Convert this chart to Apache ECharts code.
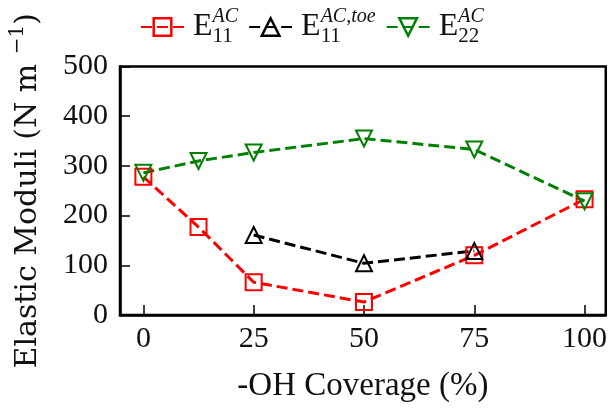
<!DOCTYPE html>
<html>
<head>
<meta charset="utf-8">
<script src="https://cdn.jsdelivr.net/npm/echarts@6/dist/echarts.min.js"></script>
<style>html,body{margin:0;padding:0;background:#fff}#c{width:610px;height:408px}</style>
</head>
<body>
<div id="c"></div>
<script>
var coverage = [0, 12.5, 25, 50, 75, 100];
var e11AC = [278, 177, 66, 26, 120, 233];
var e11ACtoe = [null, null, 161, 104, 129, null];
var e22AC = [286, 310, 327, 355, 333, 229];
var xTicks = [0, 25, 50, 75, 100];
var seriesNames = ['E11AC', 'E11ACtoe', 'E22AC'];
var legendSups = {E11AC: ['11', 'AC'], E11ACtoe: ['11', 'AC,toe'], E22AC: ['22', 'AC']};

function pairs(vals) {
  return coverage.map(function (x, i) { return [x, vals[i]]; });
}
var FONT = 'Liberation Serif';
var FONT2 = 'DejaVu Serif';
var chart = echarts.init(document.getElementById('c'), null, {renderer: 'canvas'});

function mkSeries(name, vals, color, symbol, rotate) {
  return {
    name: name, type: 'line', data: pairs(vals),
    symbol: symbol, symbolSize: 16, symbolRotate: rotate,
    lineStyle: {color: color, width: 3, type: [11, 5]},
    itemStyle: {color: 'rgba(255,255,255,0)', borderColor: color, borderWidth: 2},
    emphasis: {disabled: true}
  };
}

chart.setOption({
  animation: false,
  textStyle: {fontFamily: FONT},
  grid: {left: 118, right: 0.5, top: 66.5, bottom: 89.5, show: true, borderColor: '#000', borderWidth: 2.5},
  legend: {
    left: 140, top: 7, padding: 0, itemWidth: 43, itemHeight: 22, itemGap: 10,
    data: seriesNames,
    itemStyle: {borderWidth: 2.5},
    formatter: function (n) {
      var s = legendSups[n];
      return '{e|E}{sub|' + s[0] + '}{sup|' + s[1] + '}';
    },
    textStyle: {
      color: '#111',
      rich: {
        e: {fontFamily: FONT, fontSize: 32, lineHeight: 40, verticalAlign: 'middle', align: 'left', padding: [0, 0, 0, 4], color: '#111'},
        sub: {fontFamily: FONT, fontSize: 21, lineHeight: 28, verticalAlign: 'bottom', align: 'left', width: 0, color: '#111'},
        sup: {fontFamily: FONT, fontSize: 20, fontStyle: 'italic', lineHeight: 20, verticalAlign: 'top', align: 'left', color: '#111'}
      }
    }
  },
  xAxis: {
    type: 'value', min: -5.3, max: 104.8,
    name: '-OH Coverage (%)', nameLocation: 'middle', nameGap: 55,
    nameTextStyle: {fontFamily: FONT, fontSize: 33, color: '#111'},
    axisLine: {show: true, onZero: false, lineStyle: {color: '#000', width: 2.5}},
    axisTick: {show: true, inside: true, length: 10, customValues: xTicks, lineStyle: {color: '#000', width: 1.5}},
    axisLabel: {fontFamily: FONT, fontSize: 30, color: '#111', margin: 9, customValues: xTicks},
    splitLine: {show: false}
  },
  yAxis: {
    type: 'value', min: 0, max: 500, interval: 100,
    name: '{a|Elastic Moduli (N m }{s|\u22121}{a|)}', nameLocation: 'middle', nameGap: 72, nameRotate: 90,
    nameTextStyle: {
      rich: {
        a: {fontFamily: FONT2, fontSize: 30, lineHeight: 40, verticalAlign: 'middle', color: '#111'},
        s: {fontFamily: FONT2, fontSize: 20, lineHeight: 23, verticalAlign: 'top', color: '#111'}
      }
    },
    axisLine: {show: true, onZero: false, lineStyle: {color: '#000', width: 2.5}},
    axisTick: {show: true, inside: true, length: 10, lineStyle: {color: '#000', width: 1.5}},
    axisLabel: {fontFamily: FONT, fontSize: 30, color: '#111', margin: 12},
    splitLine: {show: false}
  },
  series: [
    mkSeries('E11AC', e11AC, '#ff0000', 'rect', 0),
    mkSeries('E11ACtoe', e11ACtoe, '#000000', 'triangle', 0),
    mkSeries('E22AC', e22AC, '#008000', 'triangle', 180)
  ]
});
</script>
</body>
</html>
